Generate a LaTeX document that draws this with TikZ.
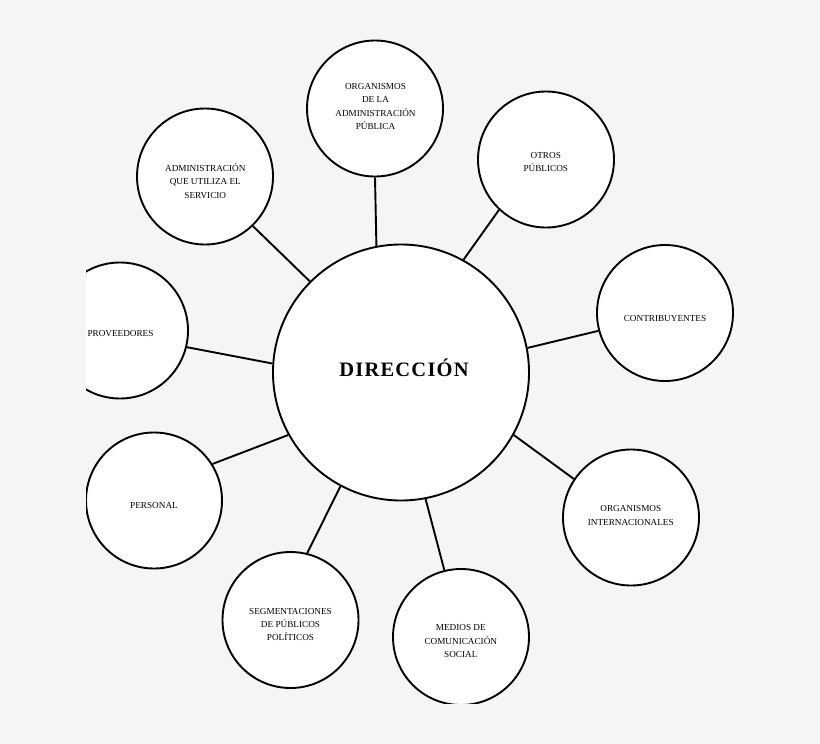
\documentclass[tikz,border=0pt]{standalone}
\usepackage{fontspec}
\setmainfont{Liberation Serif}
\definecolor{bggray}{RGB}{245,245,245}
\tikzset{
  bubble/.style={circle, draw=black, fill=white, line width=1.9pt, minimum size=136pt, inner sep=0pt},
  hub/.style={circle, draw=black, fill=white, line width=1.9pt, minimum size=256pt, inner sep=0pt},
  btext/.style={align=center, inner sep=0pt, font=\fontsize{9.2}{13.2}\selectfont},
  link/.style={line width=1.9pt, black}
}
\begin{document}
\begin{tikzpicture}[x=1pt,y=-1pt]
\useasboundingbox (0,0) rectangle (820,744);
\fill[bggray] (0,0) rectangle (820,744);
\begin{scope}
\clip (86,0) rectangle (820,703.5);
% hub
\node[hub] (dir) at (401,372.5) {};
\node[font=\fontsize{20.5}{24}\bfseries\addfontfeature{LetterSpace=6}] (dirt) at (404,368) {DIRECCIÓN};
% satellites
\node[bubble] (orgadmin) at (375,108.5) {};
\node[btext] (orgadmint) at (375.5,106.5) {ORGANISMOS\\DE LA\\ADMINISTRACIÓN\\PÚBLICA};
\node[bubble] (adminque) at (205,176.5) {};
\node[btext] (adminquet) at (205.3,181) {ADMINISTRACIÓN\\QUE UTILIZA EL\\SERVICIO};
\node[bubble] (otros) at (546,159.5) {};
\node[btext] (otrost) at (545.8,162) {OTROS\\PÚBLICOS};
\node[bubble] (contrib) at (665,313) {};
\node[btext] (contribt) at (665,318) {CONTRIBUYENTES};
\node[bubble] (prov) at (120,330.5) {};
\node[btext] (provt) at (120.5,334) {PROVEEDORES};
\node[bubble] (personal) at (154,500.5) {};
\node[btext] (personalt) at (154,505) {PERSONAL};
\node[bubble] (segm) at (290.5,620) {};
\node[btext] (segmt) at (290.5,624.5) {SEGMENTACIONES\\DE PÚBLICOS\\POLÍTICOS};
\node[bubble] (medios) at (461,637) {};
\node[btext] (mediost) at (460.8,641) {MEDIOS DE\\COMUNICACIÓN\\SOCIAL};
\node[bubble] (orgint) at (631,517.5) {};
\node[btext] (orgintt) at (630.8,515.5) {ORGANISMOS\\INTERNACIONALES};
% connectors
\draw[link] (orgadmin.270) -- (dir.101.6);
\draw[link] (adminque.314.7) -- (dir.135.3);
\draw[link] (otros.227.6) -- (dir.61.2);
\draw[link] (contrib.195) -- (dir.11.1);
\draw[link] (prov.346.4) -- (dir.176);
\draw[link] (personal.32.9) -- (dir.209);
\draw[link] (segm.76) -- (dir.242);
\draw[link] (medios.104) -- (dir.281.5);
\draw[link] (orgint.146) -- (dir.331);
\end{scope}
\end{tikzpicture}
\end{document}
